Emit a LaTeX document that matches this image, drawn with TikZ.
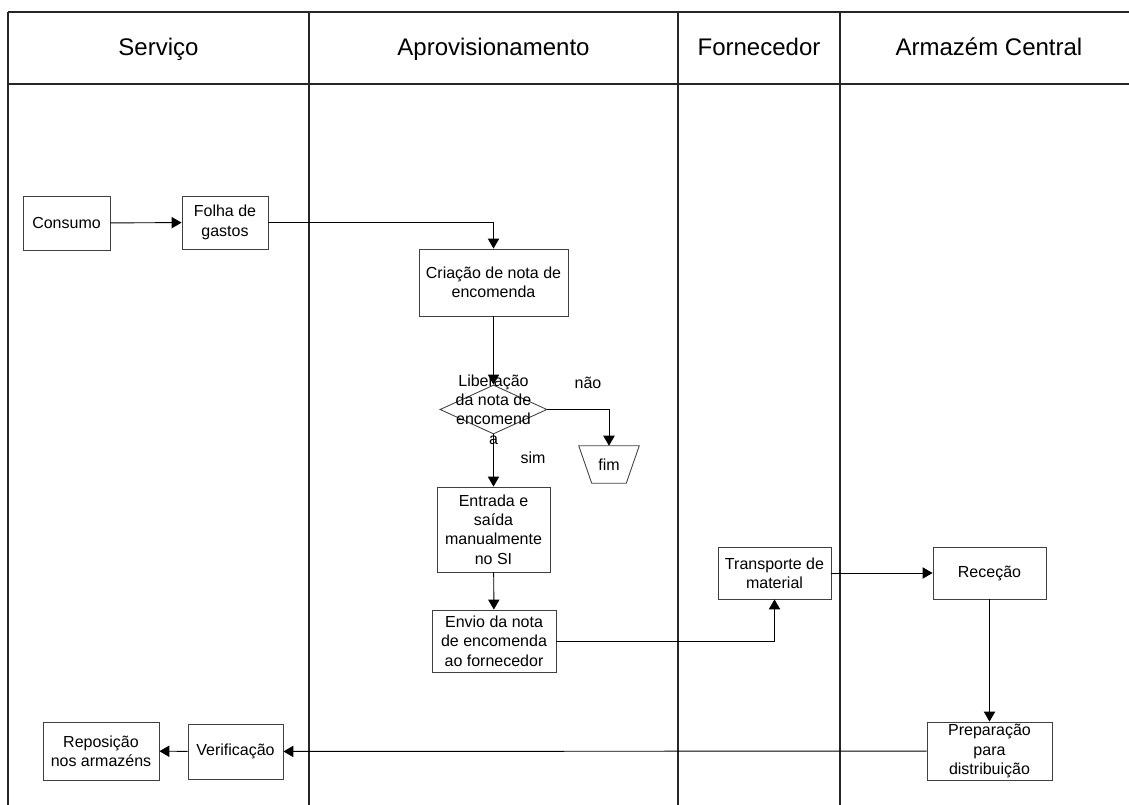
\documentclass[tikz,border=0pt]{standalone}
\usepackage{fontspec}
\setmainfont{Liberation Sans}
\usetikzlibrary{arrows.meta,shapes.geometric,calc}
\newdimen\pxu
\pxu=0.75pt
\begin{document}
\begin{tikzpicture}[x=0.75pt,y=-0.75pt,
  lane/.style={draw=black!85,line width=1.1pt},
  box/.style={draw=black!75,line width=0.65pt,rectangle,inner sep=0pt,align=center,
              font=\fontsize{12}{14.5}\selectfont},
  lbl/.style={inner sep=0pt,align=center,font=\fontsize{12}{14.5}\selectfont},
  head/.style={inner sep=0pt,anchor=base,font=\fontsize{18}{21}\selectfont},
  arr/.style={draw=black,line width=0.7pt,-{Triangle[length=7.5pt,width=8.5pt]}},
  link/.style={draw=black,line width=0.7pt}]
\useasboundingbox (0,0) rectangle (1129,805);

% swimlane frame
\draw[lane] (8,12) -- (1129,12);
\draw[lane] (8,84) -- (1129,84);
\draw[lane] (8,12) -- (8,805);
\draw[lane] (309,12) -- (309,805);
\draw[lane] (678,12) -- (678,805);
\draw[lane] (840,12) -- (840,805);

% lane titles
\node[head] (hServ) at (158.5,56) {Serviço};
\node[head] (hAprov) at (493.5,56) {Aprovisionamento};
\node[head] (hForn) at (759,56) {Fornecedor};
\node[head] (hArm) at (989,56) {Armazém Central};

% process steps
\node[box,minimum width=87\pxu,minimum height=54\pxu] (consumo) at (66.5,223) {Consumo};
\node[box,minimum width=86\pxu,minimum height=53\pxu] (folha) at (225,222.5) {Folha de\\gastos};
\node[box,minimum width=149\pxu,minimum height=67\pxu] (criacao) at (493.5,282.5) {Criação de nota de\\encomenda};
\node[draw=black!75,line width=0.65pt,diamond,inner sep=0pt,minimum width=107\pxu,minimum height=49\pxu] (dec) at (493.5,409.5) {};
\node[lbl] (decTxt) at (493.5,409.5) {Liberação\\da nota de\\encomend\\a};
\node[inner sep=0pt,minimum width=60\pxu,minimum height=37\pxu] (fim) at (609,464.5) {\fontsize{12}{14.5}\selectfont fim};
\draw[draw=black!75,line width=0.65pt] (fim.north west) -- (fim.north east)
  -- ($(fim.south east)+(-13,0)$) -- ($(fim.south west)+(13,0)$) -- cycle;
\node[lbl] (nao) at (588,383) {não};
\node[lbl] (sim) at (533,458) {sim};
\node[box,minimum width=113\pxu,minimum height=85\pxu] (entrada) at (493.5,529.5) {Entrada e\\saída\\manualmente\\no SI};
\node[box,minimum width=124\pxu,minimum height=62\pxu] (envio) at (494,641) {Envio da nota\\de encomenda\\ao fornecedor};
\node[box,minimum width=113\pxu,minimum height=52\pxu] (transp) at (774.5,573) {Transporte de\\material};
\node[box,minimum width=113\pxu,minimum height=52\pxu] (rececao) at (989.5,573) {Receção};
\node[box,minimum width=125\pxu,minimum height=58\pxu] (prep) at (989.5,751) {Preparação\\para\\distribuição};
\node[box,minimum width=95\pxu,minimum height=55\pxu] (verif) at (235.5,751.5) {Verificação};
\node[box,minimum width=116\pxu,minimum height=58\pxu] (repos) at (101,751) {Reposição\\nos armazéns};

% flow
\draw[arr] (consumo) -- (folha);
\draw[arr] (folha.east) -| (criacao.north);
\draw[arr] (criacao) -- (dec);
\draw[arr] (dec.east) -| (fim.north);
\draw[arr] (dec) -- (entrada);
\draw[arr] (entrada) -- (envio);
\draw[arr] (envio.east) -| (transp.south);
\draw[arr] (transp) -- (rececao);
\draw[arr] (rececao) -- (prep);
\draw[arr] (prep) -- (verif);
\draw[arr] (verif) -- (repos);
\end{tikzpicture}
\end{document}
